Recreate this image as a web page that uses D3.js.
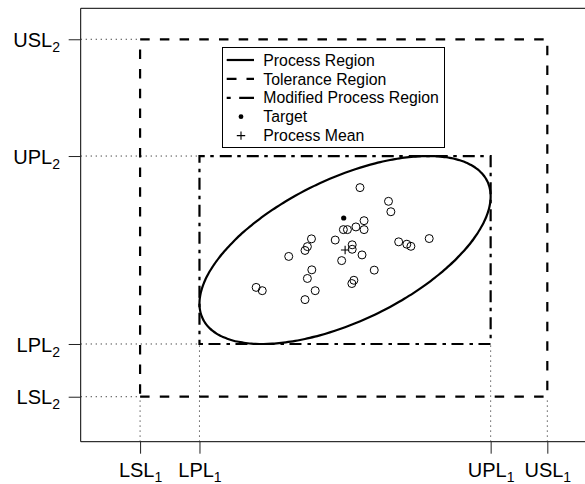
<!DOCTYPE html>
<html>
<head>
<meta charset="utf-8">
<script src="https://cdn.jsdelivr.net/npm/d3@7"></script>
<style>
  html, body { margin: 0; padding: 0; background: #fff; }
  svg { display: block; font-family: "Liberation Sans", Arial, Helvetica, sans-serif; }
</style>
</head>
<body>
<svg id="chart" width="585" height="484"></svg>
<script>
// Bivariate process capability: specification (tolerance) region, process region,
// the modified rectangular process region and the observed sample.

// Specification limits for characteristic 1 (x) and characteristic 2 (y)
const specX = { lower: 4, upper: 16 };
const specY = { lower: 4, upper: 16 };
// Process limits (extent of the process ellipse)
const procX = { lower: 5.75, upper: 14.33 };
const procY = { lower: 5.77, upper: 12.08 };
// Correlation between the two characteristics (shapes the ellipse)
const rho = 0.57;
// Target value
const target = [10, 10];

// Observed sample
const sampleX = [10.48, 11.32, 11.39, 10.60, 10.36, 10.60, 9.99, 10.11, 9.75, 10.25,
                 10.25, 10.54, 9.94, 9.05, 8.93, 8.86, 8.38, 9.06, 8.93, 9.16,
                 8.86, 7.42, 7.60, 10.30, 10.24, 10.90, 11.62, 11.86, 11.98, 12.52];
const sampleY = [11.02, 10.56, 10.21, 9.91, 9.70, 9.61, 9.61, 9.61, 9.26, 9.10,
                 8.95, 8.76, 8.57, 9.30, 9.04, 8.91, 8.71, 8.26, 7.97, 7.56,
                 7.26, 7.67, 7.56, 7.91, 7.80, 8.25, 9.20, 9.12, 9.05, 9.31];

// Tick labels (base text + subscript)
const xTicks = [
  { value: specX.lower, base: "LSL", sub: "1" },
  { value: procX.lower, base: "LPL", sub: "1" },
  { value: procX.upper, base: "UPL", sub: "1" },
  { value: specX.upper, base: "USL", sub: "1" }
];
const yTicks = [
  { value: specY.upper, base: "USL", sub: "2" },
  { value: procY.upper, base: "UPL", sub: "2" },
  { value: procY.lower, base: "LPL", sub: "2" },
  { value: specY.lower, base: "LSL", sub: "2" }
];

// Legend entries
const legendLabels = ["Process Region", "Tolerance Region", "Modified Process Region", "Target", "Process Mean"];

const svg = d3.select("#chart");

const x = d3.scaleLinear().domain([2.25, 17.75]).range([80.7, 606.7]);
const y = d3.scaleLinear().domain([2.49, 17.04]).range([441.7, 8.3]);

const DASH = "9.5,10.2";
const DOTDASH = "3.5,5.5,12,6";
const DOTTED = "1.2,3.8";
const LW = 2.2;

const points = sampleX.map((v, i) => [v, sampleY[i]]);
const mean = [d3.mean(sampleX), d3.mean(sampleY)];

// Plot frame (right side runs past the canvas)
svg.append("path")
  .attr("d", `M${x.range()[1] + 10},${y.range()[1]} H${x.range()[0]} V${y.range()[0]} H${x.range()[1] + 10}`)
  .attr("fill", "none").attr("stroke", "#000").attr("stroke-width", 1);

// Axes (ticks only; labels carry subscripts)
const xAxis = svg.append("g")
  .attr("transform", `translate(0,${y.range()[0]})`)
  .call(d3.axisBottom(x).tickValues(xTicks.map(d => d.value)).tickSize(12).tickFormat(() => ""));
xAxis.select(".domain").remove();
xAxis.selectAll(".tick line").attr("stroke", "#222");
xAxis.selectAll(".tick text").remove();
xAxis.selectAll(".tick").data(xTicks).append("text")
  .attr("y", 35).attr("text-anchor", "middle").attr("fill", "#000").attr("font-size", 20)
  .each(function (d) {
    const t = d3.select(this);
    t.append("tspan").text(d.base);
    t.append("tspan").attr("font-size", 14).attr("dy", 5).text(d.sub);
  });

const yAxis = svg.append("g")
  .attr("transform", `translate(${x.range()[0]},0)`)
  .call(d3.axisLeft(y).tickValues(yTicks.map(d => d.value)).tickSize(12).tickFormat(() => ""));
yAxis.select(".domain").remove();
yAxis.selectAll(".tick line").attr("stroke", "#222");
yAxis.selectAll(".tick text").remove();
yAxis.selectAll(".tick").data(yTicks).append("text")
  .attr("x", -20.7).attr("y", 7.2).attr("text-anchor", "end").attr("fill", "#000").attr("font-size", 20)
  .each(function (d) {
    const t = d3.select(this);
    t.append("tspan").text(d.base);
    t.append("tspan").attr("font-size", 14).attr("dy", 5).text(d.sub);
  });

// Dotted reference lines from the axes to the region corners
const guides = svg.append("g").attr("stroke", "#333").attr("stroke-width", 1)
  .attr("stroke-dasharray", DOTTED).attr("fill", "none");
[[specX.lower, specY.upper], [specX.lower, specY.lower]].forEach(([gx, gy]) => {
  guides.append("line").attr("x1", x.range()[0]).attr("x2", x(gx)).attr("y1", y(gy)).attr("y2", y(gy));
});
[[procX.lower, procY.upper], [procX.lower, procY.lower]].forEach(([gx, gy]) => {
  guides.append("line").attr("x1", x.range()[0]).attr("x2", x(gx)).attr("y1", y(gy)).attr("y2", y(gy));
});
[specX.lower, specX.upper].forEach(gx => {
  guides.append("line").attr("x1", x(gx)).attr("x2", x(gx)).attr("y1", y.range()[0]).attr("y2", y(specY.lower));
});
[procX.lower, procX.upper].forEach(gx => {
  guides.append("line").attr("x1", x(gx)).attr("x2", x(gx)).attr("y1", y.range()[0]).attr("y2", y(procY.lower));
});

// Rectangle drawn from the lower-left corner, counter-clockwise
function rectPath(rx, ry) {
  return `M${x(rx.lower)},${y(ry.lower)} H${x(rx.upper)} V${y(ry.upper)} H${x(rx.lower)} Z`;
}

// Tolerance region
svg.append("path").attr("d", rectPath(specX, specY))
  .attr("fill", "none").attr("stroke", "#000").attr("stroke-width", LW)
  .attr("stroke-dasharray", DASH);

// Modified process region
svg.append("path").attr("d", rectPath(procX, procY))
  .attr("fill", "none").attr("stroke", "#000").attr("stroke-width", LW)
  .attr("stroke-dasharray", DOTDASH);

// Process region ellipse
const cx = (procX.lower + procX.upper) / 2, cy = (procY.lower + procY.upper) / 2;
const hx = (procX.upper - procX.lower) / 2, hy = (procY.upper - procY.lower) / 2;
const ellipsePts = d3.range(0, 361, 2).map(a => {
  const t = a * Math.PI / 180;
  return [cx + hx * Math.cos(t), cy + hy * (rho * Math.cos(t) + Math.sqrt(1 - rho * rho) * Math.sin(t))];
});
svg.append("path")
  .attr("d", d3.line().x(d => x(d[0])).y(d => y(d[1])).curve(d3.curveCardinalClosed)(ellipsePts.slice(0, -1)))
  .attr("fill", "none").attr("stroke", "#000").attr("stroke-width", LW);

// Sample points
svg.append("g").selectAll("circle").data(points).join("circle")
  .attr("cx", d => x(d[0])).attr("cy", d => y(d[1])).attr("r", 4)
  .attr("fill", "none").attr("stroke", "#000").attr("stroke-width", 1);

// Target
svg.append("circle").attr("cx", x(target[0])).attr("cy", y(target[1])).attr("r", 2.6).attr("fill", "#000");

// Process mean
function plus(g, px, py, s) {
  g.append("path").attr("d", `M${px - s},${py} H${px + s} M${px},${py - s} V${py + s}`)
    .attr("stroke", "#000").attr("stroke-width", 1.1).attr("fill", "none");
}
plus(svg, x(mean[0]), y(mean[1]), 4.2);

// Legend
const lg = svg.append("g").attr("transform", "translate(222.5,47.5)");
lg.append("rect").attr("width", 222).attr("height", 100)
  .attr("fill", "#fff").attr("stroke", "#000").attr("stroke-width", 1);
const rowY = i => 12.5 + i * 18.9;
const styles = [null, DASH, DOTDASH];
legendLabels.forEach((lab, i) => {
  const yy = rowY(i);
  if (i < 3) {
    const ln = lg.append("line").attr("x1", 4.2).attr("x2", 31.5).attr("y1", yy).attr("y2", yy)
      .attr("stroke", "#000").attr("stroke-width", LW);
    if (styles[i]) ln.attr("stroke-dasharray", i === 2 ? "4,8.5,16,0" : "9.8,10");
  } else if (i === 3) {
    lg.append("circle").attr("cx", 18.5).attr("cy", yy).attr("r", 2.4).attr("fill", "#000");
  } else {
    plus(lg, 18.5, yy, 4.2);
  }
  lg.append("text").attr("x", 40.8).attr("y", yy + 5.6).attr("font-size", 15.8).attr("fill", "#000").text(lab);
});
</script>
</body>
</html>
